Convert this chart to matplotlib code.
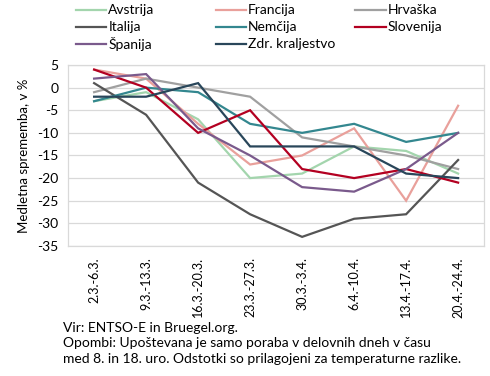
import matplotlib
matplotlib.use('Agg')
import matplotlib.pyplot as plt
from matplotlib.lines import Line2D

plt.rcParams['font.family'] = ['Lato', 'DejaVu Sans']
plt.rcParams['axes.unicode_minus'] = False

# Data
weeks = ['2.3.-6.3.', '9.3.-13.3.', '16.3.-20.3.', '23.3.-27.3.',
         '30.3.-3.4.', '6.4.-10.4.', '13.4.-17.4.', '20.4.-24.4.']

avstrija = [-3, -1, -7, -20, -19, -13, -14, -19]
francija = [4, 2, -8, -17, -15, -9, -25, -4]
hrvaska = [-1, 2, 0, -2, -11, -13, -15, -18]
italija = [1, -6, -21, -28, -33, -29, -28, -16]
nemcija = [-3, 0, -1, -8, -10, -8, -12, -10]
slovenija = [4, 0, -10, -5, -18, -20, -18, -21]
spanija = [2, 3, -9, -15, -22, -23, -18, -10]
zdr_kraljestvo = [-2, -2, 1, -13, -13, -13, -19, -20]

series = [
    ('Avstrija', avstrija, '#a3d5ad'),
    ('Francija', francija, '#e9a09b'),
    ('Hrvaška', hrvaska, '#a0a0a0'),
    ('Italija', italija, '#555555'),
    ('Nemčija', nemcija, '#33878f'),
    ('Slovenija', slovenija, '#b30021'),
    ('Španija', spanija, '#7a5a8c'),
    ('Zdr. kraljestvo', zdr_kraljestvo, '#29465a'),
]

fig = plt.figure(figsize=(4.9, 3.76), dpi=100)
ax = fig.add_axes([0.139, 0.346, 0.849, 0.481])

x = range(len(weeks))
for name, vals, col in series:
    ax.plot(x, vals, color=col, lw=1.6, solid_joinstyle='miter')

ax.set_xlim(-0.5, len(weeks) - 0.5)
ax.set_ylim(-35, 5)
ax.set_yticks(range(-35, 6, 5))
ax.set_xticks(list(x))
ax.set_xticklabels(weeks, rotation=90, fontsize=9)
ax.tick_params(axis='y', labelsize=10, length=0, pad=7)
ax.tick_params(axis='x', length=0, pad=8)
ax.grid(axis='y', color='#d9d9d9', lw=0.9)
ax.set_axisbelow(True)
for sp in ax.spines.values():
    sp.set_color('#d9d9d9')
    sp.set_linewidth(0.9)

ax.set_ylabel('Medletna sprememba, v %', fontsize=9.5, labelpad=5)

# Legend, laid out in three columns like the original
for i, (name, vals, col) in enumerate(series):
    cx = 0.155 + (i % 3) * 0.285
    cy = 0.973 - (i // 3) * 0.045
    fig.add_artist(Line2D([cx, cx + 0.062], [cy, cy], color=col, lw=1.6,
                          transform=fig.transFigure))
    fig.text(cx + 0.066, cy, name, fontsize=10, va='center', ha='left')

notes = ['Vir: ENTSO-E in Bruegel.org.',
         'Opombi: Upoštevana je samo poraba v delovnih dneh v času',
         'med 8. in 18. uro. Odstotki so prilagojeni za temperaturne razlike.']
for j, line in enumerate(notes):
    fig.text(0.128, 0.128 - j * 0.041, line, fontsize=10, va='center', ha='left')

fig.savefig('out.png', dpi=100)
